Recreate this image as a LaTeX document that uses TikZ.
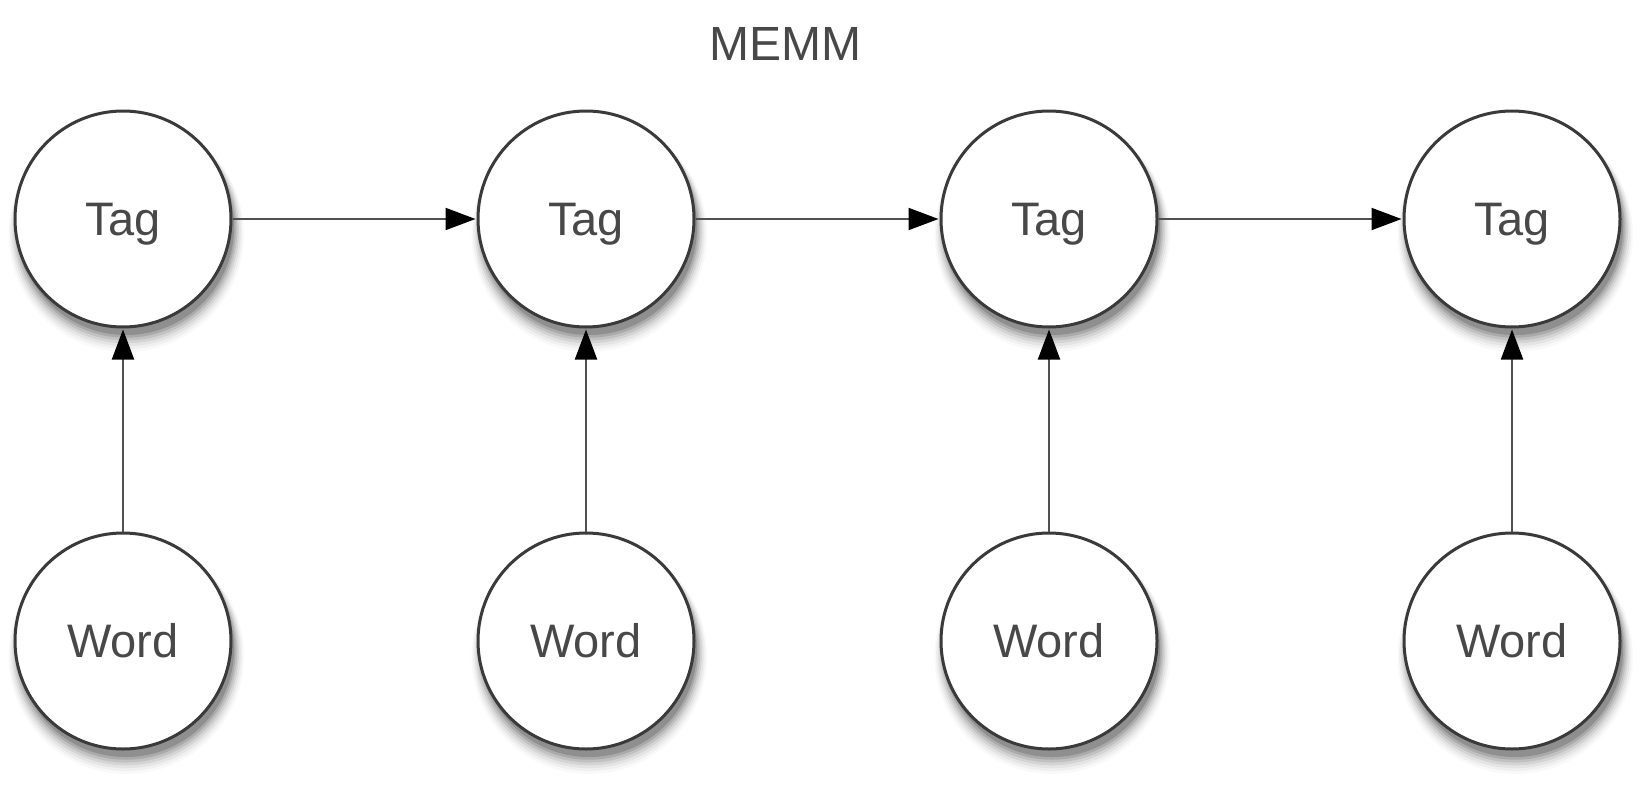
\documentclass[tikz,border=0pt]{standalone}
\usepackage{fontspec}
\setmainfont{Liberation Sans}
\usetikzlibrary{arrows.meta,shadows}
\definecolor{txt}{HTML}{484848}
\definecolor{ring}{HTML}{3A3A3A}
\definecolor{conn}{HTML}{505050}
\tikzset{
  ball/.style={circle, draw=ring, line width=3pt, fill=white, minimum size=216pt, inner sep=0pt,
    font=\fontsize{47}{50}\selectfont, text=txt, text height=33.6pt, text depth=0pt,
    general shadow={shadow xshift=3pt, shadow yshift=-8pt, shadow scale=1.000, fill=black, opacity=0.16},
    general shadow={shadow xshift=3pt, shadow yshift=-9pt, shadow scale=1.015, fill=black, opacity=0.12},
    general shadow={shadow xshift=3pt, shadow yshift=-10pt, shadow scale=1.030, fill=black, opacity=0.09},
    general shadow={shadow xshift=3pt, shadow yshift=-11pt, shadow scale=1.045, fill=black, opacity=0.07},
    general shadow={shadow xshift=3pt, shadow yshift=-12pt, shadow scale=1.060, fill=black, opacity=0.05},
    general shadow={shadow xshift=3pt, shadow yshift=-13pt, shadow scale=1.075, fill=black, opacity=0.035},
    general shadow={shadow xshift=3pt, shadow yshift=-14pt, shadow scale=1.090, fill=black, opacity=0.025}},
  conn/.style={draw=conn, line width=2pt, -{Triangle[length=30pt,width=22pt,fill=black,color=black]}, shorten >=1pt},
  title/.style={font=\fontsize{48}{52}\selectfont, text=txt, text height=34.4pt, text depth=0pt}
}
\begin{document}
\begin{tikzpicture}[x=1pt,y=-1pt]
\useasboundingbox (0,0) rectangle (1648,808);
\node[title] (title) at (785,43) {MEMM};
\node[ball] (t1) at (123,219) {Tag};
\node[ball] (t2) at (586,219) {Tag};
\node[ball] (t3) at (1049,219) {Tag};
\node[ball] (t4) at (1512,219) {Tag};
\node[ball] (w1) at (123,641) {Word};
\node[ball] (w2) at (586,641) {Word};
\node[ball] (w3) at (1049,641) {Word};
\node[ball] (w4) at (1512,641) {Word};
\draw[conn] (t1) -- (t2);
\draw[conn] (t2) -- (t3);
\draw[conn] (t3) -- (t4);
\draw[conn] (w1) -- (t1);
\draw[conn] (w2) -- (t2);
\draw[conn] (w3) -- (t3);
\draw[conn] (w4) -- (t4);
\end{tikzpicture}
\end{document}
